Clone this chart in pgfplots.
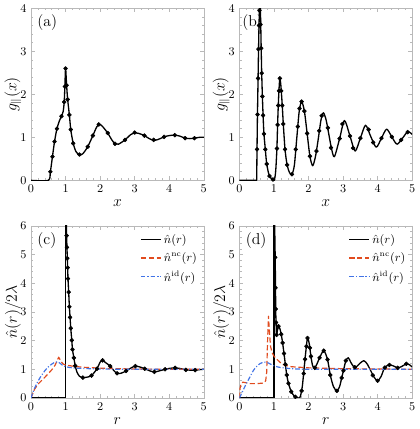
\documentclass[border=0pt]{standalone}
\usepackage{pgfplots}
\pgfplotsset{compat=1.18}
\definecolor{ncred}{RGB}{225,75,30}
\definecolor{idblue}{RGB}{65,115,230}

\pgfplotsset{
  panel/.style={
    width=131pt, height=130.5pt, scale only axis,
    xmin=0, xmax=5, xtick={0,1,2,3,4,5},
    minor x tick num=4, minor y tick num=4,
    tick align=inside, major tick length=3pt, minor tick length=1.6pt,
    axis line style={gray!55}, tick style={gray!55, line width=0.4pt},
    tick label style={font=\small},
    label style={font=\large},
    xlabel style={at={(axis description cs:0.5,-0.135)}, anchor=center},
    ylabel style={at={(axis description cs:-0.105,0.5)}, anchor=center},
    every axis plot/.append style={line join=round},
  },
  curve/.style={black, line width=1pt, smooth, tension=0.45},
  dots/.style={only marks, mark=*, mark size=1.5pt, black},
}
\tikzset{
  lbl/.style={anchor=north west, font=\large, inner sep=2pt},
  ncdash/.style={ncred, line width=0.9pt, dash pattern=on 4pt off 2pt},
  iddash/.style={idblue, line width=0.9pt, dash pattern=on 3.5pt off 1.5pt on 0.8pt off 1.5pt},
}

\begin{document}
\begin{tikzpicture}

% (a)
\begin{axis}[panel, at={(0pt,0pt)}, anchor=south west,
  ymin=0, ymax=4, ytick={0,1,2,3,4},
  xlabel={$x$}, ylabel={$g_{\parallel}(x)$}]
  \addplot[curve] coordinates {(0,0)(0.5,0)(0.56,0.2)(0.62,0.55)(0.68,0.9)(0.75,1.2)(0.82,1.38)(0.88,1.49)(0.93,1.6)(0.96,1.82)(0.98,2.18)(1.0,2.6)(1.03,2.21)(1.06,1.88)(1.11,1.52)(1.15,1.18)(1.22,0.86)(1.3,0.67)(1.4,0.59)(1.5,0.62)(1.64,0.78)(1.79,1.04)(1.9,1.24)(1.98,1.3)(2.06,1.26)(2.22,1.1)(2.33,0.95)(2.43,0.85)(2.53,0.84)(2.72,0.94)(2.88,1.06)(3.0,1.1)(3.12,1.09)(3.28,1.04)(3.42,0.97)(3.55,0.93)(3.68,0.95)(3.85,1.01)(4.0,1.04)(4.15,1.05)(4.3,1.03)(4.46,0.98)(4.6,0.97)(4.73,0.98)(4.88,1.0)(5,1.0)};
  \addplot[dots] coordinates {(0.56,0.2)(0.62,0.55)(0.68,0.9)(0.75,1.2)(0.88,1.49)(0.96,1.82)(0.98,2.18)(1.0,2.6)(1.03,2.21)(1.06,1.88)(1.11,1.52)(1.15,1.18)(1.22,0.86)(1.4,0.6)(1.64,0.78)(1.79,1.04)(1.96,1.3)(2.22,1.1)(2.43,0.85)(2.72,0.94)(3.0,1.11)(3.28,1.04)(3.55,0.94)(3.85,1.01)(4.16,1.05)(4.46,0.98)(4.73,0.98)};
  \node[lbl] at (rel axis cs:0.02,0.98) {(a)};
\end{axis}

% (b)
\begin{axis}[panel, at={(158pt,0pt)}, anchor=south west,
  ymin=0, ymax=4, ytick={0,1,2,3,4},
  xlabel={$x$}, ylabel={$g_{\parallel}(x)$}]
  \addplot[black, line width=1pt] coordinates {(0,0)(0.5,0)(0.505,0.4)};
  \addplot[curve] coordinates {(0.505,0.4)(0.52,1.4)(0.54,2.37)(0.555,3.1)(0.57,3.7)(0.585,4.1)(0.6,4.2)(0.615,3.7)(0.63,3.07)(0.645,2.49)(0.665,1.95)(0.685,1.51)(0.71,1.08)(0.75,0.72)(0.79,0.38)(0.86,0.12)(0.95,0.02)(1.01,0.0)(1.05,0.22)(1.085,0.74)(1.105,1.29)(1.125,1.74)(1.145,2.1)(1.17,2.37)(1.2,2.2)(1.24,1.74)(1.27,1.31)(1.32,0.72)(1.38,0.36)(1.45,0.18)(1.52,0.14)(1.59,0.35)(1.66,0.98)(1.73,1.6)(1.8,1.83)(1.88,1.61)(1.96,1.09)(2.04,0.56)(2.12,0.34)(2.2,0.55)(2.28,0.95)(2.36,1.4)(2.43,1.57)(2.51,1.4)(2.59,1.06)(2.67,0.72)(2.75,0.55)(2.9,0.97)(3.04,1.39)(3.2,1.03)(3.35,0.68)(3.5,0.98)(3.65,1.28)(3.8,1.02)(3.96,0.77)(4.11,0.98)(4.26,1.19)(4.41,1.01)(4.56,0.84)(4.72,0.98)(4.87,1.13)(5.0,1.07)};
  \addplot[dots] coordinates {(0.51,0.72)(0.525,1.53)(0.54,2.37)(0.55,3.05)(0.565,3.6)(0.58,3.95)(0.61,3.62)(0.63,3.07)(0.645,2.49)(0.665,1.95)(0.685,1.51)(0.71,1.08)(0.75,0.72)(0.79,0.38)(0.87,0.1)(0.97,0.02)(1.085,0.74)(1.105,1.29)(1.125,1.74)(1.145,2.08)(1.17,2.37)(1.21,2.08)(1.24,1.74)(1.27,1.31)(1.32,0.72)(1.38,0.36)(1.52,0.14)(1.63,0.72)(1.69,1.25)(1.74,1.67)(1.8,1.83)(1.88,1.61)(1.96,1.09)(2.04,0.56)(2.23,0.68)(2.31,1.15)(2.38,1.5)(2.56,1.22)(2.65,0.76)(2.9,0.97)(2.98,1.31)(3.2,1.03)(3.29,0.75)(3.5,0.98)(3.74,1.18)(3.87,0.88)(4.11,0.98)(4.41,1.01)(4.68,0.94)(4.87,1.12)};
  \node[lbl] at (rel axis cs:0.0,0.98) {(b)};
\end{axis}

% (c)
\begin{axis}[panel, at={(0pt,-165pt)}, anchor=south west,
  ymin=0, ymax=6, ytick={0,1,2,3,4,5,6},
  xlabel={$r$}, ylabel={$\hat{n}(r)/2\lambda$},
  legend style={at={(0.985,0.975)}, anchor=north east, draw=none, fill=none,
    font=\small, row sep=1.5pt, inner sep=1pt},
  legend cell align=left,
  legend image code/.code={\draw[#1] plot coordinates {(0pt,0pt)(15pt,0pt)};}]
  \addplot[black, line width=1pt] coordinates {(0,0)(1,0)(1,7)};
  \addplot[curve, forget plot] coordinates {(1,7)(1.02,6.2)(1.03,5.66)(1.04,5.25)(1.05,4.87)(1.06,4.54)(1.07,4.16)(1.09,3.69)(1.11,3.18)(1.13,2.81)(1.15,2.43)(1.18,2.01)(1.2,1.69)(1.24,1.4)(1.28,1.12)(1.33,0.9)(1.4,0.76)(1.47,0.71)(1.6,0.72)(1.75,0.78)(1.91,1.02)(2.0,1.25)(2.07,1.31)(2.15,1.24)(2.29,1.11)(2.4,0.95)(2.49,0.86)(2.6,0.86)(2.75,0.94)(2.9,1.05)(3.02,1.11)(3.15,1.08)(3.29,1.02)(3.45,0.94)(3.57,0.91)(3.7,0.94)(3.88,1.0)(4.0,1.03)(4.17,1.05)(4.3,1.03)(4.48,0.98)(4.6,0.97)(4.75,0.97)(4.9,0.99)(5,1.0)};
  \addplot[dots, forget plot] coordinates {(1.03,5.66)(1.04,5.25)(1.05,4.87)(1.06,4.54)(1.07,4.16)(1.09,3.69)(1.11,3.18)(1.13,2.81)(1.15,2.43)(1.18,2.01)(1.2,1.69)(1.24,1.4)(1.28,1.12)(1.5,0.71)(1.75,0.78)(1.91,1.02)(2.07,1.31)(2.29,1.11)(2.49,0.86)(2.75,0.94)(3.02,1.11)(3.29,1.02)(3.57,0.91)(3.88,1.0)(4.17,1.05)(4.48,0.98)(4.75,0.97)};
  \addplot[ncdash] coordinates {(0,0)(0.05,0.15)(0.1,0.3)(0.2,0.48)(0.3,0.6)(0.4,0.72)(0.5,0.85)(0.6,0.98)(0.7,1.15)(0.8,1.42)(0.85,1.32)(0.9,1.22)(0.95,1.17)(1.0,1.15)(1.2,1.11)(1.5,1.07)(2,1.04)(2.5,1.02)(3,1.01)(4,1.0)(5,1.0)};
  \addplot[iddash, smooth] coordinates {(0,0)(0.05,0.18)(0.1,0.33)(0.2,0.58)(0.3,0.78)(0.4,0.95)(0.5,1.08)(0.6,1.18)(0.7,1.25)(0.78,1.26)(0.9,1.15)(1.0,1.09)(1.2,1.05)(1.5,1.03)(2,1.01)(3,1.0)(5,1.0)};
  \legend{$\hat{n}(r)$, $\hat{n}^{\mathrm{nc}}(r)$, $\hat{n}^{\mathrm{id}}(r)$}
  \node[lbl] at (rel axis cs:0.02,0.98) {(c)};
\end{axis}

% (d)
\begin{axis}[panel, at={(158pt,-165pt)}, anchor=south west,
  ymin=0, ymax=6, ytick={0,1,2,3,4,5,6},
  xlabel={$r$}, ylabel={$\hat{n}(r)/2\lambda$},
  legend style={at={(0.985,0.975)}, anchor=north east, draw=none, fill=none,
    font=\small, row sep=1.5pt, inner sep=1pt},
  legend cell align=left,
  legend image code/.code={\draw[#1] plot coordinates {(0pt,0pt)(15pt,0pt)};}]
  \addplot[black, line width=1pt] coordinates {(0,0)(1,0)(1,7)};
  \addplot[curve, forget plot] coordinates {(1,7)(1.02,6)(1.035,4.9)(1.045,3.84)(1.05,3.1)(1.06,2.63)(1.075,2.2)(1.1,2.35)(1.13,2.5)(1.17,2.42)(1.21,2.22)(1.25,1.92)(1.29,1.55)(1.33,1.17)(1.37,0.8)(1.42,0.51)(1.5,0.22)(1.6,0.05)(1.7,0.0)(1.76,0.04)(1.82,0.4)(1.87,1.0)(1.92,1.6)(1.97,2.09)(2.02,1.9)(2.07,1.45)(2.12,1.12)(2.18,1.05)(2.25,1.2)(2.32,1.4)(2.44,1.65)(2.55,1.34)(2.63,0.8)(2.72,0.4)(2.82,0.25)(2.9,0.4)(2.96,0.7)(3.02,1.0)(3.08,1.3)(3.15,1.4)(3.22,1.25)(3.3,1.1)(3.38,1.08)(3.48,1.2)(3.6,1.3)(3.7,1.18)(3.8,0.95)(3.9,0.72)(4.0,0.6)(4.1,0.75)(4.2,1.05)(4.32,1.15)(4.45,1.12)(4.58,1.05)(4.7,1.1)(4.85,1.2)(4.93,1.15)(5.0,1.08)};
  \addplot[dots, forget plot] coordinates {(1.035,4.9)(1.045,3.84)(1.05,3.1)(1.06,2.63)(1.075,2.2)(1.13,2.5)(1.21,2.22)(1.25,1.92)(1.29,1.55)(1.33,1.17)(1.37,0.8)(1.42,0.51)(1.5,0.22)(1.62,0.04)(1.8,0.25)(1.86,0.85)(1.9,1.35)(1.94,1.8)(1.97,2.09)(2.04,1.75)(2.07,1.45)(2.18,1.05)(2.32,1.4)(2.44,1.65)(2.55,1.34)(2.63,0.8)(2.82,0.25)(2.96,0.7)(3.01,0.95)(3.08,1.3)(3.34,1.07)(3.86,0.79)(4.0,0.6)(4.21,1.06)(4.34,1.15)(4.58,1.05)(4.83,1.19)};
  \addplot[ncdash] coordinates {(0,0)(0.02,0.35)(0.05,0.5)(0.1,0.55)(0.2,0.53)(0.3,0.5)(0.5,0.5)(0.7,0.52)(0.76,0.6)(0.79,0.9)(0.81,1.8)(0.84,2.85)(0.87,2.3)(0.9,1.8)(0.95,1.57)(1.0,1.46)(1.1,1.33)(1.24,1.17)(1.5,1.09)(2,1.05)(3,1.02)(4,1.01)(5,1.0)};
  \addplot[iddash, smooth] coordinates {(0,0)(0.1,0.25)(0.2,0.5)(0.3,0.72)(0.4,0.95)(0.5,1.1)(0.6,1.2)(0.72,1.25)(0.8,1.24)(0.9,1.18)(1.0,1.12)(1.15,1.07)(1.3,1.05)(1.5,1.02)(2,1.0)(3,1.0)(5,1.0)};
  \legend{$\hat{n}(r)$, $\hat{n}^{\mathrm{nc}}(r)$, $\hat{n}^{\mathrm{id}}(r)$}
  \node[lbl] at (rel axis cs:0.02,0.98) {(d)};
\end{axis}

\end{tikzpicture}
\end{document}
